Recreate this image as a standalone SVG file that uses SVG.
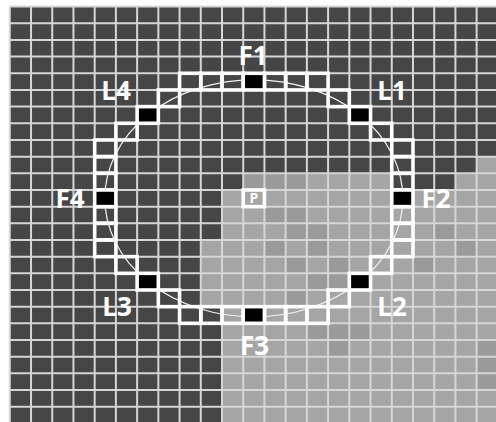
<svg xmlns="http://www.w3.org/2000/svg" xmlns:xlink="http://www.w3.org/1999/xlink" width="496" height="422" viewBox="0 0 496 422">
<style>
.grid line{stroke:#d6d6d6;stroke-width:2}
.ring use{fill:none;stroke:#fff;stroke-width:3.6}
.ring use.b{fill:#000}
.var use{fill:#9a9a9a}
.lbl{font-family:"Open Sans","Noto Sans","DejaVu Sans",sans-serif;font-weight:bold;font-size:26px;fill:#fff;text-anchor:middle}
</style>
<defs>
<rect id="cell" width="21.22" height="16.67"/>
</defs>
<rect x="0" y="0" width="496" height="422" fill="#fff"/>
<g id="background">
<rect x="9.8" y="6.6" width="490" height="420" fill="#464646"/>
<polygon fill="#a5a5a5" points="222,423.35 222,306.66 200.78,306.66 200.78,239.98 222,239.98 222,189.97 243.22,189.97 243.22,173.3 391.76,173.3 391.76,189.97 455.42,189.97 455.42,173.3 476.64,173.3 476.64,156.63 497.86,156.63 497.86,423.35"/>
<g class="var">
<use xlink:href="#cell" x="243.22" y="173.3"/>
<use xlink:href="#cell" x="264.44" y="173.3"/>
<use xlink:href="#cell" x="285.66" y="173.3"/>
<use xlink:href="#cell" x="264.44" y="206.64"/>
<use xlink:href="#cell" x="285.66" y="206.64"/>
<use xlink:href="#cell" x="285.66" y="223.31"/>
<use xlink:href="#cell" x="306.88" y="223.31"/>
<use xlink:href="#cell" x="264.44" y="239.98"/>
<use xlink:href="#cell" x="306.88" y="239.98"/>
<use xlink:href="#cell" x="285.66" y="256.65"/>
<use xlink:href="#cell" x="328.1" y="256.65"/>
<use xlink:href="#cell" x="306.88" y="273.32"/>
<use xlink:href="#cell" x="328.1" y="273.32"/>
<use xlink:href="#cell" x="434.2" y="223.31"/>
<use xlink:href="#cell" x="455.42" y="239.98"/>
<use xlink:href="#cell" x="285.66" y="289.99"/>
<use xlink:href="#cell" x="306.88" y="323.33"/>
<use xlink:href="#cell" x="328.1" y="323.33"/>
<use xlink:href="#cell" x="349.32" y="323.33"/>
<use xlink:href="#cell" x="328.1" y="340"/>
<use xlink:href="#cell" x="476.64" y="340"/>
<use xlink:href="#cell" x="476.64" y="356.67"/>
<use xlink:href="#cell" x="476.64" y="373.34"/>
<use xlink:href="#cell" x="412.98" y="256.65"/>
</g>
</g>
<g id="grid" class="grid">
<line x1="9.8" y1="6.6" x2="9.8" y2="422"/>
<line x1="31.02" y1="6.6" x2="31.02" y2="422"/>
<line x1="52.24" y1="6.6" x2="52.24" y2="422"/>
<line x1="73.46" y1="6.6" x2="73.46" y2="422"/>
<line x1="94.68" y1="6.6" x2="94.68" y2="422"/>
<line x1="115.9" y1="6.6" x2="115.9" y2="422"/>
<line x1="137.12" y1="6.6" x2="137.12" y2="422"/>
<line x1="158.34" y1="6.6" x2="158.34" y2="422"/>
<line x1="179.56" y1="6.6" x2="179.56" y2="422"/>
<line x1="200.78" y1="6.6" x2="200.78" y2="422"/>
<line x1="222" y1="6.6" x2="222" y2="422"/>
<line x1="243.22" y1="6.6" x2="243.22" y2="422"/>
<line x1="264.44" y1="6.6" x2="264.44" y2="422"/>
<line x1="285.66" y1="6.6" x2="285.66" y2="422"/>
<line x1="306.88" y1="6.6" x2="306.88" y2="422"/>
<line x1="328.1" y1="6.6" x2="328.1" y2="422"/>
<line x1="349.32" y1="6.6" x2="349.32" y2="422"/>
<line x1="370.54" y1="6.6" x2="370.54" y2="422"/>
<line x1="391.76" y1="6.6" x2="391.76" y2="422"/>
<line x1="412.98" y1="6.6" x2="412.98" y2="422"/>
<line x1="434.2" y1="6.6" x2="434.2" y2="422"/>
<line x1="455.42" y1="6.6" x2="455.42" y2="422"/>
<line x1="476.64" y1="6.6" x2="476.64" y2="422"/>
<line x1="9.8" y1="6.6" x2="496" y2="6.6"/>
<line x1="9.8" y1="23.27" x2="496" y2="23.27"/>
<line x1="9.8" y1="39.94" x2="496" y2="39.94"/>
<line x1="9.8" y1="56.61" x2="496" y2="56.61"/>
<line x1="9.8" y1="73.28" x2="496" y2="73.28"/>
<line x1="9.8" y1="89.95" x2="496" y2="89.95"/>
<line x1="9.8" y1="106.62" x2="496" y2="106.62"/>
<line x1="9.8" y1="123.29" x2="496" y2="123.29"/>
<line x1="9.8" y1="139.96" x2="496" y2="139.96"/>
<line x1="9.8" y1="156.63" x2="496" y2="156.63"/>
<line x1="9.8" y1="173.3" x2="496" y2="173.3"/>
<line x1="9.8" y1="189.97" x2="496" y2="189.97"/>
<line x1="9.8" y1="206.64" x2="496" y2="206.64"/>
<line x1="9.8" y1="223.31" x2="496" y2="223.31"/>
<line x1="9.8" y1="239.98" x2="496" y2="239.98"/>
<line x1="9.8" y1="256.65" x2="496" y2="256.65"/>
<line x1="9.8" y1="273.32" x2="496" y2="273.32"/>
<line x1="9.8" y1="289.99" x2="496" y2="289.99"/>
<line x1="9.8" y1="306.66" x2="496" y2="306.66"/>
<line x1="9.8" y1="323.33" x2="496" y2="323.33"/>
<line x1="9.8" y1="340" x2="496" y2="340"/>
<line x1="9.8" y1="356.67" x2="496" y2="356.67"/>
<line x1="9.8" y1="373.34" x2="496" y2="373.34"/>
<line x1="9.8" y1="390.01" x2="496" y2="390.01"/>
<line x1="9.8" y1="406.68" x2="496" y2="406.68"/>
</g>
<g id="circle">
<ellipse cx="253.83" cy="198.3" rx="149" ry="118.5" fill="none" stroke="#f2f2f2" stroke-width="1.2"/>
</g>
<g id="ring" class="ring">
<use xlink:href="#cell" x="179.56" y="73.28"/>
<use xlink:href="#cell" x="200.78" y="73.28"/>
<use xlink:href="#cell" x="222" y="73.28"/>
<use xlink:href="#cell" x="264.44" y="73.28"/>
<use xlink:href="#cell" x="285.66" y="73.28"/>
<use xlink:href="#cell" x="306.88" y="73.28"/>
<use xlink:href="#cell" x="158.34" y="89.95"/>
<use xlink:href="#cell" x="328.1" y="89.95"/>
<use xlink:href="#cell" x="115.9" y="123.29"/>
<use xlink:href="#cell" x="370.54" y="123.29"/>
<use xlink:href="#cell" x="94.68" y="139.96"/>
<use xlink:href="#cell" x="94.68" y="156.63"/>
<use xlink:href="#cell" x="94.68" y="173.3"/>
<use xlink:href="#cell" x="94.68" y="206.64"/>
<use xlink:href="#cell" x="94.68" y="223.31"/>
<use xlink:href="#cell" x="94.68" y="239.98"/>
<use xlink:href="#cell" x="391.76" y="139.96"/>
<use xlink:href="#cell" x="391.76" y="156.63"/>
<use xlink:href="#cell" x="391.76" y="173.3"/>
<use xlink:href="#cell" x="391.76" y="206.64"/>
<use xlink:href="#cell" x="391.76" y="223.31"/>
<use xlink:href="#cell" x="391.76" y="239.98"/>
<use xlink:href="#cell" x="115.9" y="256.65"/>
<use xlink:href="#cell" x="370.54" y="256.65"/>
<use xlink:href="#cell" x="158.34" y="289.99"/>
<use xlink:href="#cell" x="328.1" y="289.99"/>
<use xlink:href="#cell" x="179.56" y="306.66"/>
<use xlink:href="#cell" x="200.78" y="306.66"/>
<use xlink:href="#cell" x="222" y="306.66"/>
<use xlink:href="#cell" x="264.44" y="306.66"/>
<use xlink:href="#cell" x="285.66" y="306.66"/>
<use xlink:href="#cell" x="306.88" y="306.66"/>
<g id="F1"><use class="b" xlink:href="#cell" x="243.22" y="73.28"/><text class="lbl" x="253" y="65">F1</text></g>
<g id="L1"><use class="b" xlink:href="#cell" x="349.32" y="106.62"/><text class="lbl" x="392" y="100">L1</text></g>
<g id="F2"><use class="b" xlink:href="#cell" x="391.76" y="189.97"/><text class="lbl" x="436" y="208">F2</text></g>
<g id="L2"><use class="b" xlink:href="#cell" x="349.32" y="273.32"/><text class="lbl" x="392" y="316">L2</text></g>
<g id="F3"><use class="b" xlink:href="#cell" x="243.22" y="306.66"/><text class="lbl" x="254.5" y="355">F3</text></g>
<g id="L3"><use class="b" xlink:href="#cell" x="137.12" y="273.32"/><text class="lbl" x="117" y="316">L3</text></g>
<g id="F4"><use class="b" xlink:href="#cell" x="94.68" y="189.97"/><text class="lbl" x="70" y="208">F4</text></g>
<g id="L4"><use class="b" xlink:href="#cell" x="137.12" y="106.62"/><text class="lbl" x="116" y="100">L4</text></g>
<g id="P"><use xlink:href="#cell" x="243.22" y="189.97"/><text class="lbl" x="253.8" y="202.5" style="font-size:14px">P</text></g>
</g>
</svg>
